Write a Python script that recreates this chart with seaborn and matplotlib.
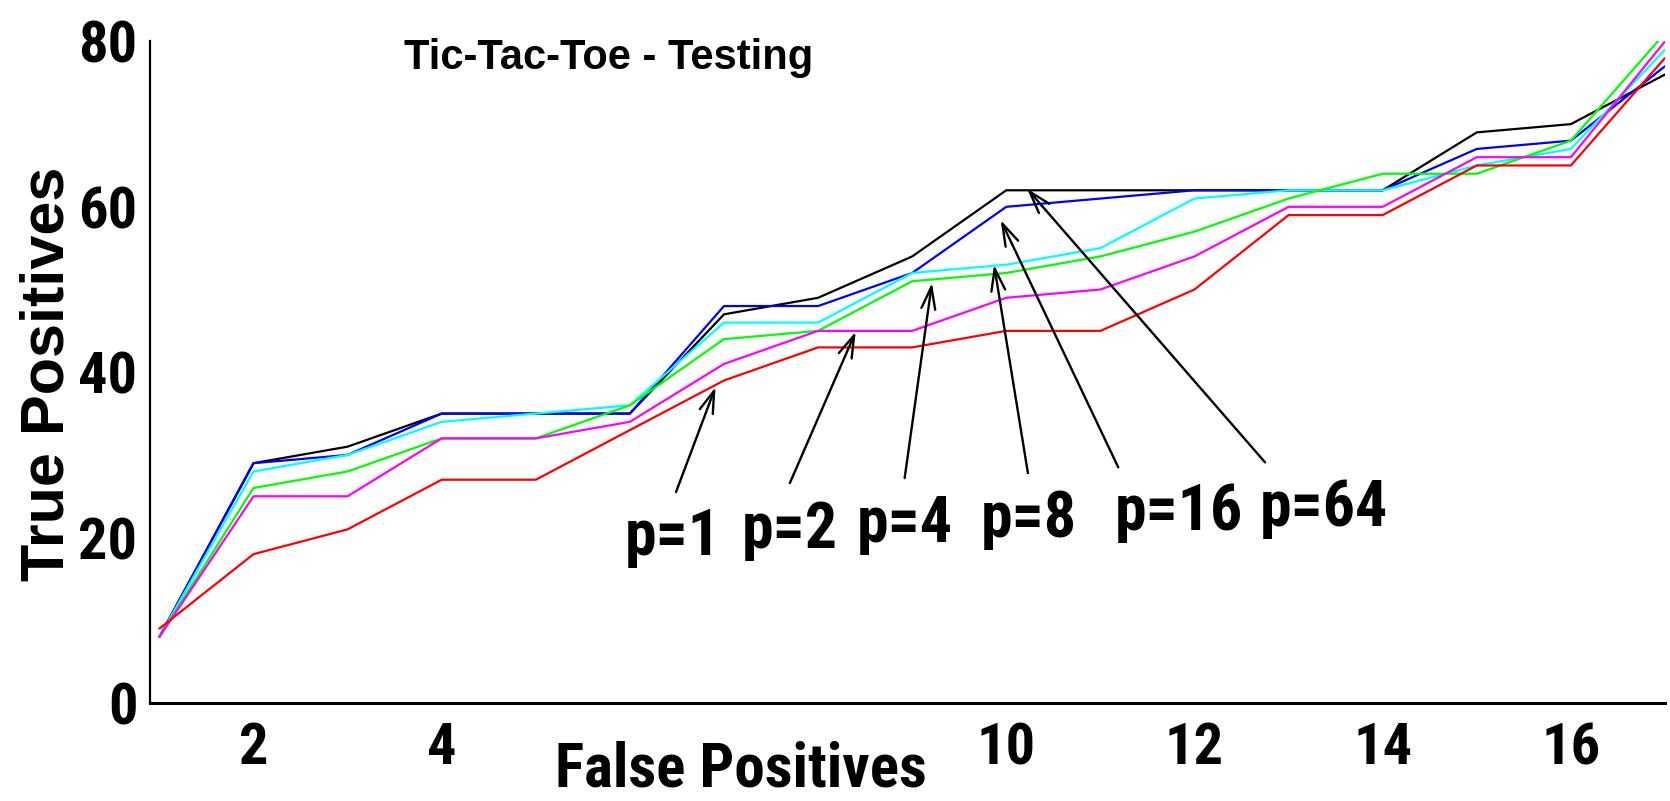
import matplotlib
matplotlib.use('Agg')
import matplotlib.pyplot as plt
import seaborn as sns
import pandas as pd

# false positives on the x axis
false_pos = list(range(1, 18))

# true positives per p value
tp_p1 = [9, 18, 21, 27, 27, 33, 39, 43, 43, 45, 45, 50, 59, 59, 65, 65, 78]
tp_p2 = [8, 25, 25, 32, 32, 34, 41, 45, 45, 49, 50, 54, 60, 60, 66, 66, 80]
tp_p4 = [8, 26, 28, 32, 32, 36, 44, 45, 51, 52, 54, 57, 61, 64, 64, 68, 81]
tp_p8 = [8, 28, 30, 34, 35, 36, 46, 46, 52, 53, 55, 61, 62, 62, 65, 67, 79]
tp_p16 = [8, 29, 30, 35, 35, 35, 48, 48, 52, 60, 61, 62, 62, 62, 67, 68, 77]
tp_p64 = [8, 29, 31, 35, 35, 35, 47, 49, 54, 62, 62, 62, 62, 62, 69, 70, 76]

labels = ['p=1', 'p=2', 'p=4', 'p=8', 'p=16', 'p=64']
series = [tp_p1, tp_p2, tp_p4, tp_p8, tp_p16, tp_p64]

y_ticks = [0, 20, 40, 60, 80]
x_ticks = [2, 4, 6, 8, 10, 12, 14, 16]
x_ticklabels = ['2', '4', '', '', '10', '12', '14', '16']

colors = {'p=1': '#ff0000', 'p=2': '#ff00ff', 'p=4': '#00ff00',
          'p=8': '#00ffff', 'p=16': '#0000ff', 'p=64': '#000000'}
draw_order = ['p=64', 'p=16', 'p=8', 'p=4', 'p=2', 'p=1']

# label text spots (baseline) and arrow tail/head in data coords
text_pos = [(6.46, 17.9), (7.70, 18.7), (8.92, 19.5), (10.24, 20.1), (11.83, 20.9), (13.38, 21.4)]
arrow_tail = [(6.49, 25.5), (7.70, 26.6), (8.92, 27.2), (10.23, 27.8), (11.19, 28.5), (12.75, 29.1)]
arrow_head = [(6.91, 38.2), (8.40, 44.9), (9.21, 50.8), (9.87, 53.0), (9.94, 58.4), (10.22, 62.2)]

rows = []
for lab, vals in zip(labels, series):
    for fp, tp in zip(false_pos, vals):
        rows.append({'fp': fp, 'tp': tp, 'p': lab})
df = pd.DataFrame(rows)

narrow = ['Roboto Condensed', 'Liberation Sans', 'DejaVu Sans']
wide = ['Liberation Sans', 'DejaVu Sans']

sns.set_style('white')
plt.rcParams['font.family'] = narrow
plt.rcParams['font.weight'] = 'bold'
plt.rcParams['text.color'] = 'black'
plt.rcParams['axes.labelcolor'] = 'black'
plt.rcParams['xtick.color'] = 'black'
plt.rcParams['ytick.color'] = 'black'

fig = plt.figure(figsize=(16.7, 8.01), dpi=100)
ax = fig.add_axes([0.0898, 0.1223, 0.9072, 0.8260])

sns.lineplot(data=df, x='fp', y='tp', hue='p', hue_order=draw_order,
             palette=colors, legend=False, linewidth=1.6, ax=ax)

ax.set_xlim(0.9, 17)
ax.set_ylim(0, 80)
ax.set_xticks(x_ticks)
ax.set_xticklabels(x_ticklabels)
ax.set_yticks(y_ticks)

ax.tick_params(axis='x', direction='in', length=13, width=0.8, pad=13, labelsize=42)
ax.tick_params(axis='y', direction='in', length=10, width=1.5, pad=9, labelsize=42)
for t in ax.get_xticklabels() + ax.get_yticklabels():
    t.set_fontweight('bold')

sns.despine(ax=ax, top=True, right=True)
ax.spines['left'].set_linewidth(1.6)
ax.spines['bottom'].set_linewidth(2.2)
ax.spines['left'].set_color('black')
ax.spines['bottom'].set_color('black')

ax.set_xlabel('False Positives', fontsize=44, fontweight='bold')
ax.xaxis.set_label_coords(0.39, -0.1255)
ax.xaxis.label.set_verticalalignment('baseline')
ax.xaxis.label.set_horizontalalignment('center')

ax.set_ylabel('True Positives', fontsize=44, fontweight='bold', family=wide)
ax.yaxis.set_label_coords(-0.067, 0.497)
ax.yaxis.label.set_verticalalignment('center')
ax.yaxis.label.set_horizontalalignment('center')

ax.text(0.303, 0.975, 'Tic-Tac-Toe - Testing', transform=ax.transAxes,
        ha='center', va='center', fontsize=30, fontweight='bold', family=wide)

for lab, tpos, tail, head in zip(labels, text_pos, arrow_tail, arrow_head):
    ax.text(tpos[0], tpos[1], lab, ha='center', va='baseline',
            fontsize=46, fontweight='bold')
    ax.annotate('', xy=head, xytext=tail,
                arrowprops=dict(arrowstyle='->,head_length=1.6,head_width=0.5',
                                color='black', lw=1.7, shrinkA=0, shrinkB=0))

fig.savefig('out.png', dpi=100)
